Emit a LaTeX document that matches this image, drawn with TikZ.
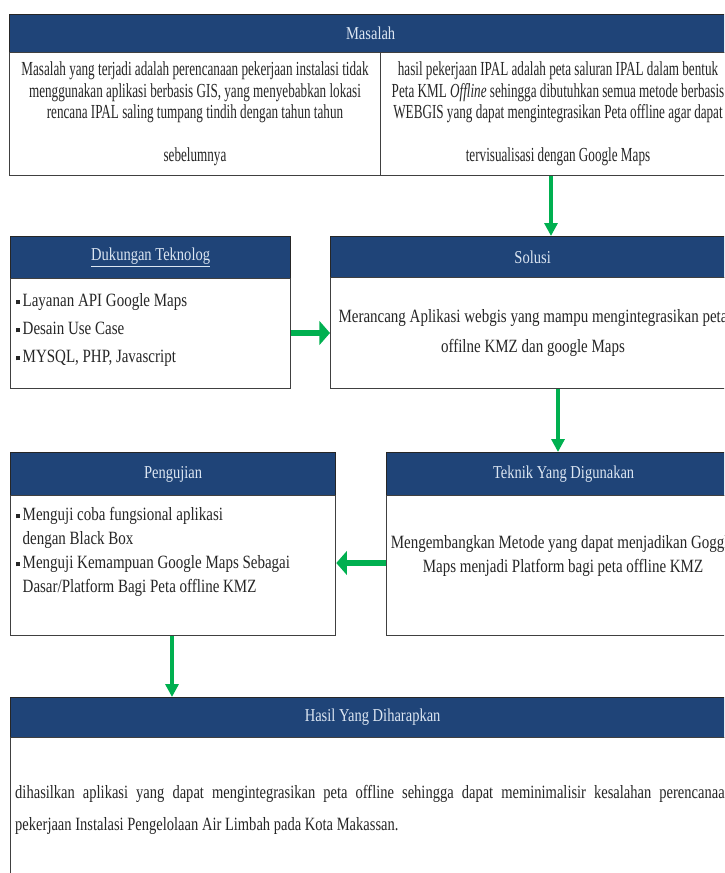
\documentclass[tikz,border=0pt]{standalone}
\usepackage{fontspec}
\setmainfont{Liberation Serif}
\newfontfamily\rapat[FakeStretch=0.66]{Liberation Serif}
\newfontfamily\biasa[FakeStretch=0.8]{Liberation Serif}
\newfontfamily\lebar[FakeStretch=0.775]{Liberation Serif}
\usetikzlibrary{arrows.meta}
\definecolor{biru}{RGB}{31,68,120}
\definecolor{hijau}{RGB}{0,176,80}
\definecolor{judul}{RGB}{220,230,242}
\newcommand\bul{\rule[0.25ex]{3.5pt}{3.5pt}\hspace{2pt}}
\newcommand\jarak{\hphantom{\bul}}

\begin{document}
\begin{tikzpicture}[x=0.03cm,y=-0.03cm,
  ukuran/.style 2 args={minimum width=#1*0.03cm,minimum height=#2*0.03cm},
  kotak/.style={draw=black!75,line width=1.1pt,fill=white,anchor=north west,inner sep=0pt},
  kepala/.style={kotak,draw=black!85,fill=biru,text=judul,font=\biasa\fontsize{15.5}{17}\selectfont},
  teks/.style={inner sep=0pt,text=black!85},
  tipis/.style={draw=hijau,line width=2.8pt,-{Triangle[length=11pt,width=11pt]}},
  tebal/.style={draw=hijau,line width=5.5pt,-{Triangle[length=9pt,width=20pt]}}]
\useasboundingbox (0,0) rectangle (724,873);
\clip (0,0) rectangle (724,873);

% masalah
\node[kepala,ukuran={722}{38}] (masalahH) at (9,14) {Masalah};
\node[kotak,ukuran={371}{123}] (masalahL) at (9,52) {};
\node[kotak,ukuran={351}{123}] (masalahR) at (380,52) {};
\node[teks,align=center,font=\rapat\fontsize{17}{18.4}\selectfont] (masalahLt) at (195,114)
  {Masalah yang terjadi adalah perencanaan pekerjaan instalasi tidak\\
   menggunakan aplikasi berbasis GIS, yang menyebabkan\ lokasi\\
   rencana IPAL saling tumpang tindih dengan tahun tahun\\[18pt]
   sebelumnya};
\node[teks,align=center,font=\rapat\fontsize{17}{18.4}\selectfont] (masalahRt) at (558,114)
  {hasil pekerjaan IPAL adalah peta saluran IPAL dalam bentuk\\
   Peta KML \textit{Offline} sehingga dibutuhkan semua metode berbasis\\
   WEBGIS yang dapat mengintegrasikan\ Peta offline agar dapat\\[18pt]
   tervisualisasi dengan Google Maps};

% dukungan dan solusi
\node[kepala,ukuran={280}{42}] (dukunganH) at (10,236) {\underline{Dukungan Teknolog}};
\node[kotak,ukuran={280}{110}] (dukunganB) at (10,278) {};
\node[teks,anchor=west,align=left,font=\biasa\fontsize{16}{23.9}\selectfont] (dukunganT) at (16,330)
  {\bul Layanan API Google Maps\\ \bul Desain Use Case\\ \bul MYSQL, PHP, Javascript};
\node[kepala,ukuran={404}{41}] (solusiH) at (330,236) {Solusi};
\node[kotak,ukuran={404}{111}] (solusiB) at (330,277) {};
\node[teks,align=center,font=\biasa\fontsize{16}{25.6}\selectfont] (solusiT) at (533,333)
  {Merancang Aplikasi webgis yang mampu mengintegrasikan peta\\ offilne KMZ dan google Maps};

% teknik dan pengujian
\node[kepala,ukuran={354}{43}] (teknikH) at (386,452) {Teknik Yang Digunakan};
\node[kotak,ukuran={354}{140}] (teknikB) at (386,495) {};
\node[teks,align=center,font=\biasa\fontsize{16}{21.3}\selectfont] (teknikT) at (563,556)
  {Mengembangkan Metode yang dapat menjadikan Goggle\\ Maps menjadi Platform bagi peta offline KMZ};
\node[kepala,ukuran={325}{43}] (ujiH) at (10,452) {Pengujian};
\node[kotak,ukuran={325}{140}] (ujiB) at (10,495) {};
\node[teks,anchor=west,align=left,font=\biasa\fontsize{16}{20.5}\selectfont] (ujiT) at (16,552)
  {\bul Menguji coba fungsional aplikasi\\ \jarak dengan Black Box\\
   \bul Menguji Kemampuan Google Maps Sebagai\\ \jarak Dasar/Platform Bagi Peta offline KMZ};

% hasil
\node[kepala,ukuran={724}{40}] (hasilH) at (10,697) {Hasil Yang Diharapkan};
\node[kotak,ukuran={724}{220}] (hasilB) at (10,737) {};
\node[teks,anchor=west,align=left,font=\lebar\fontsize{16}{28}\selectfont] (hasilT) at (15,810)
  {\makebox[21.5cm][s]{dihasilkan aplikasi yang dapat mengintegrasikan peta offline sehingga dapat meminimalisir kesalahan perencanaan}\\
   pekerjaan Instalasi Pengelolaan Air Limbah pada Kota Makassan.};

% panah
\coordinate (ta) at (551,0);
\coordinate (tb) at (0,333);
\coordinate (tc) at (558,0);
\coordinate (td) at (0,563);
\coordinate (te) at (172,0);
\draw[tipis] (masalahR.south -| ta) -- (solusiH.north -| ta);
\draw[tebal] (dukunganB.east |- tb) -- (solusiB.west |- tb);
\draw[tipis] (solusiB.south -| tc) -- (teknikH.north -| tc);
\draw[tebal] (teknikB.west |- td) -- (ujiB.east |- td);
\draw[tipis] (ujiB.south -| te) -- (hasilH.north -| te);
\end{tikzpicture}
\end{document}
